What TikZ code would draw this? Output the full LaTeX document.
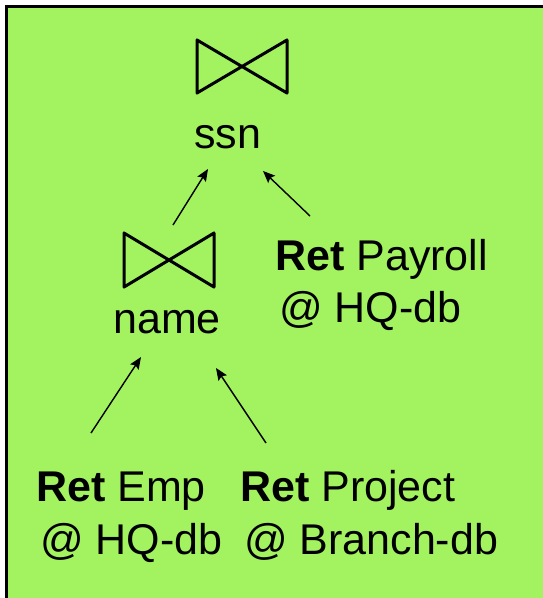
\documentclass[tikz,border=0pt]{standalone}
\usepackage{fontspec}
\setmainfont{Liberation Sans}
\usetikzlibrary{arrows.meta}
\definecolor{bg}{RGB}{163,242,96}
\tikzset{
  lbl/.style={anchor=base west,inner sep=0pt,font=\fontsize{43}{52}\selectfont},
  bowtie/.style={line width=3pt,line join=round},
  conn/.style={line width=1.4pt,-{Stealth[length=12pt,width=10pt,inset=2pt]}}
}
\begin{document}
\begin{tikzpicture}[x=1pt,y=-1pt]
\useasboundingbox (0,0) rectangle (542,598);
\fill[white] (0,0) rectangle (542,598);
\filldraw[fill=bg,draw=black,line width=3pt] (6,6) rectangle (560,620);
% join ssn
\draw[bowtie] (197,40) -- (287,93) -- (287,40) -- (197,93) -- cycle;
\node[lbl] (ssn) at (194,148) {ssn};
% join name
\draw[bowtie] (124,233) -- (214,287) -- (214,233) -- (124,287) -- cycle;
\node[lbl] (name) at (113,333) {name};
% leaves
\node[lbl] (pay) at (275,270) {\textbf{Ret} Payroll};
\node[lbl] (paydb) at (279,322) {@ HQ-db};
\node[lbl] (emp) at (36,501) {\textbf{Ret} Emp};
\node[lbl] (empdb) at (40,554) {@ HQ-db};
\node[lbl] (proj) at (240,501) {\textbf{Ret} Project};
\node[lbl] (projdb) at (244,554) {@ Branch-db};
% connector ends
\coordinate (a1) at (173,225); \coordinate (a2) at (208,169);
\coordinate (b1) at (310,216); \coordinate (b2) at (263,171);
\coordinate (c1) at (91,433);  \coordinate (c2) at (141,357);
\coordinate (d1) at (266,443); \coordinate (d2) at (216,368);
\draw[conn] (a1) -- (a2);
\draw[conn] (b1) -- (b2);
\draw[conn] (c1) -- (c2);
\draw[conn] (d1) -- (d2);
\end{tikzpicture}
\end{document}
